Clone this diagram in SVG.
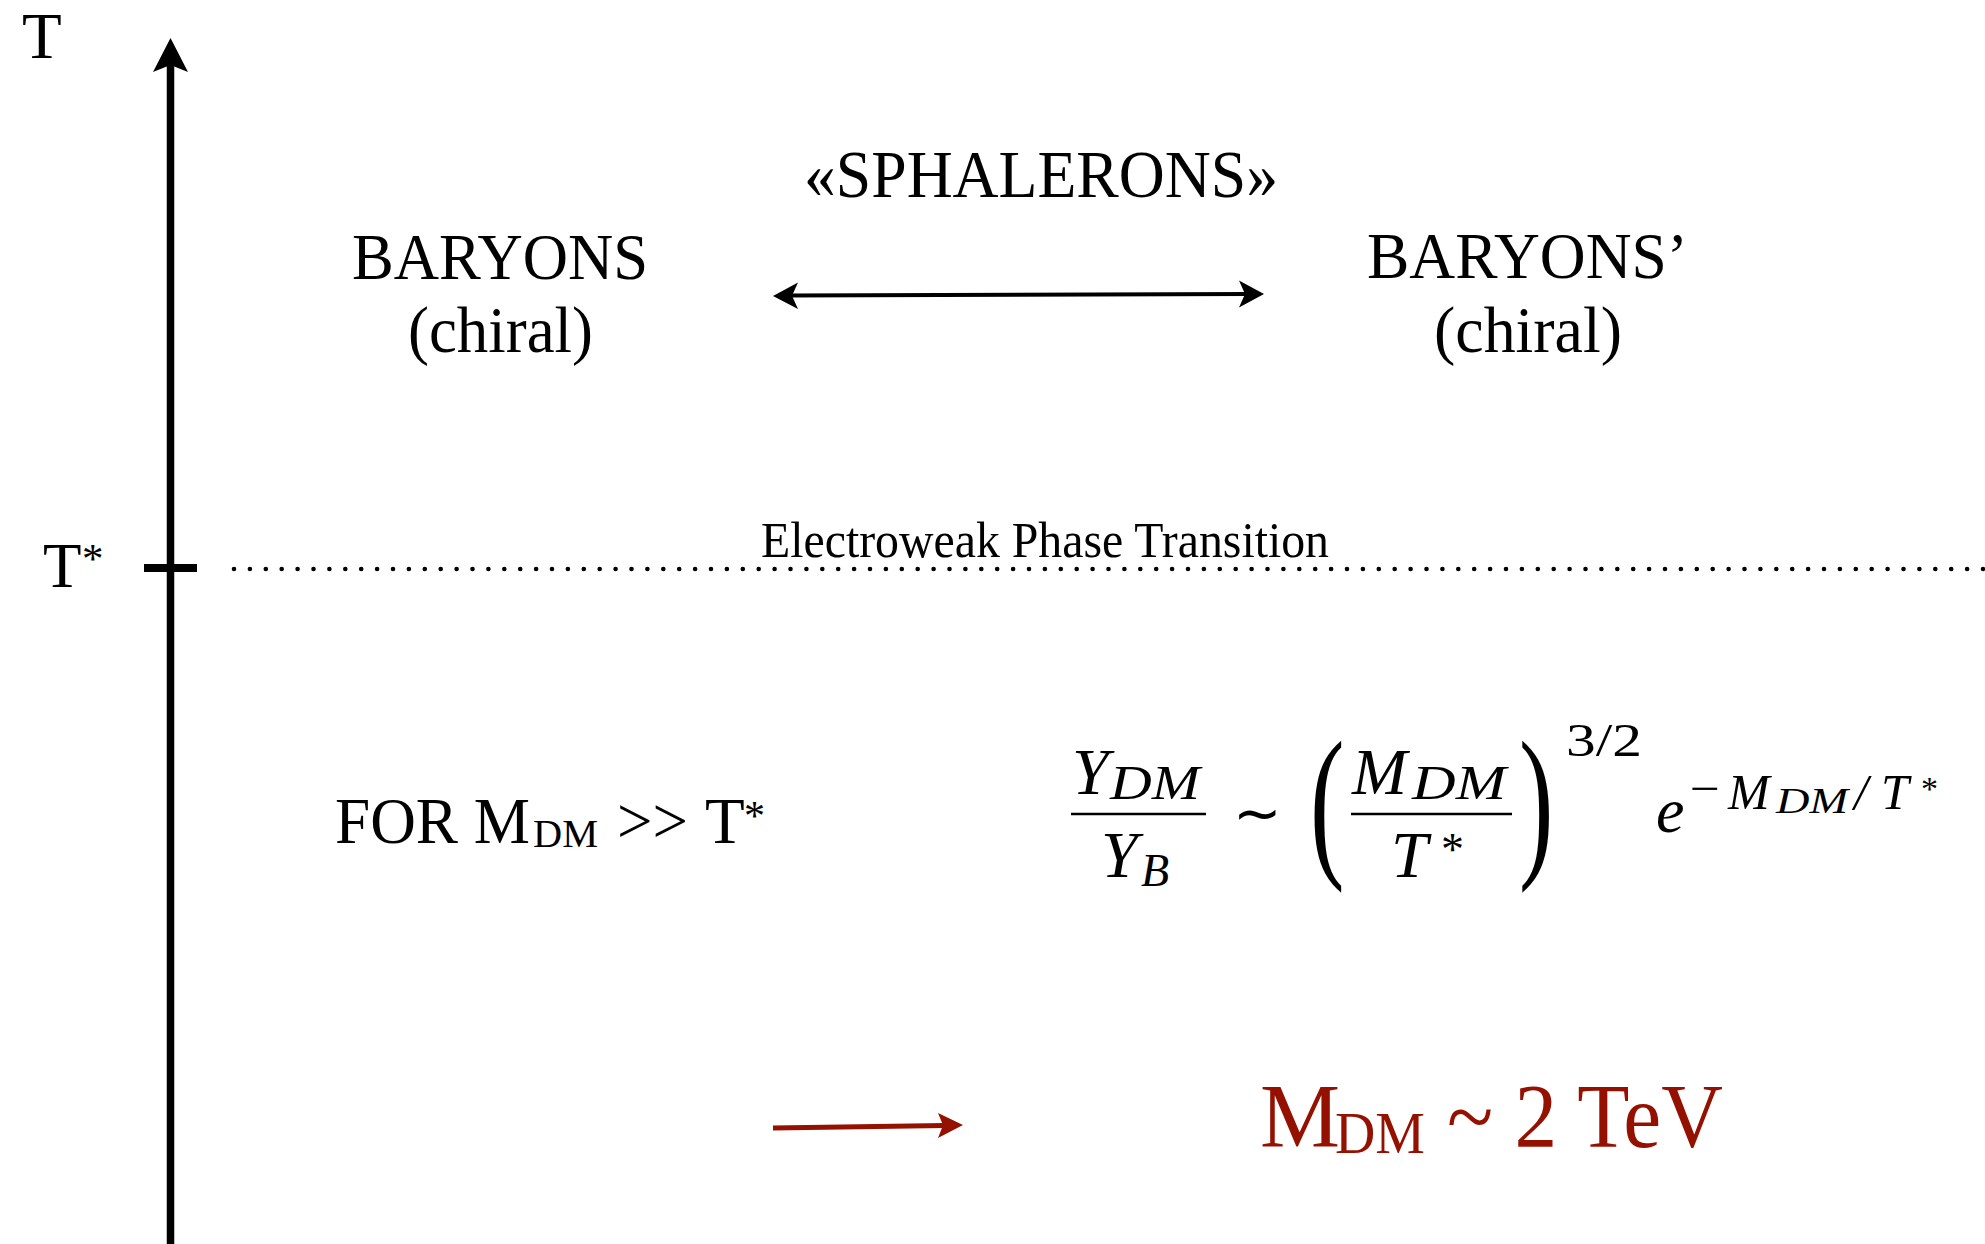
<svg xmlns="http://www.w3.org/2000/svg" width="1985" height="1244" viewBox="0 0 1985 1244">
<style>
.t{font-family:"Liberation Serif","Times New Roman",serif;fill:#000}
.m{font-family:"Liberation Serif","Times New Roman",serif;font-style:italic;fill:#000}
.u{font-family:"Liberation Serif","Times New Roman",serif;fill:#000}
.red{font-family:"Liberation Serif","Times New Roman",serif;fill:#941100}
.ax{stroke:#000;stroke-width:7.5;fill:none}
.bar{stroke:#000;stroke-width:2.6}
</style>
<rect width="1985" height="1244" fill="#fff"/>
<g id="connectors">
  <g id="t-axis">
    <line class="ax" x1="170.5" y1="1244" x2="170.5" y2="62"/>
    <polygon points="170.5,38 188,72 170.5,65 153,72" fill="#000"/>
    <line x1="144" y1="568" x2="197" y2="568" stroke="#000" stroke-width="8"/>
  </g>
  <line id="ewpt-line" x1="234" y1="569" x2="1985" y2="569" stroke="#000" stroke-width="4.6" stroke-linecap="round" stroke-dasharray="0 15.9"/>
  <g id="sphaleron-arrow">
    <line x1="788" y1="295.5" x2="1249" y2="294" stroke="#000" stroke-width="4.2"/>
    <polygon points="773,296 798,282.5 792,295.8 798,309" fill="#000"/>
    <polygon points="1264,294 1239,280.5 1245,294 1239,307.5" fill="#000"/>
  </g>
  <g id="red-arrow">
    <line x1="773" y1="1128" x2="945" y2="1125.4" stroke="#941100" stroke-width="5"/>
    <polygon points="963,1125 938,1113 943,1125.3 938,1138" fill="#941100"/>
  </g>
</g>
<g id="axis-labels">
  <text class="t" x="22" y="58" font-size="65">T</text>
  <text class="t" x="43" y="587" font-size="63">T</text>
  <text class="t" x="82" y="573" font-size="43">*</text>
</g>
<g id="baryons">
  <text class="t" x="352" y="279" font-size="66" textLength="296" lengthAdjust="spacingAndGlyphs">BARYONS</text>
  <text class="t" x="408" y="352" font-size="66" textLength="185" lengthAdjust="spacingAndGlyphs">(chiral)</text>
</g>
<g id="baryons-prime">
  <text class="t" x="1367" y="278" font-size="66" textLength="321" lengthAdjust="spacingAndGlyphs">BARYONS’</text>
  <text class="t" x="1434" y="352" font-size="66" textLength="188" lengthAdjust="spacingAndGlyphs">(chiral)</text>
</g>
<g id="sphalerons">
  <text class="t" x="804" y="197" font-size="68" textLength="474" lengthAdjust="spacingAndGlyphs">«SPHALERONS»</text>
</g>
<g id="ewpt">
  <text class="t" x="761" y="557" font-size="50" textLength="568" lengthAdjust="spacingAndGlyphs">Electroweak Phase Transition</text>
</g>
<g id="condition">
  <text class="t" x="335" y="843" font-size="65" textLength="195" lengthAdjust="spacingAndGlyphs">FOR M</text>
  <text class="t" x="533" y="847" font-size="40" textLength="65" lengthAdjust="spacingAndGlyphs">DM</text>
  <text class="t" x="617" y="843" font-size="65" textLength="71" lengthAdjust="spacingAndGlyphs">&gt;&gt;</text>
  <text class="t" x="705" y="843" font-size="65">T</text>
  <text class="t" x="744" y="830" font-size="42">*</text>
</g>
<g id="formula">
  <text class="m" x="1072" y="794" font-size="66">Y</text>
  <text class="m" x="1110" y="799" font-size="48" textLength="90" lengthAdjust="spacingAndGlyphs">DM</text>
  <line class="bar" x1="1071" y1="814" x2="1206" y2="814"/>
  <text class="m" x="1101" y="877" font-size="66">Y</text>
  <text class="m" x="1141" y="886" font-size="46">B</text>
  <text class="u" x="1233" y="833" font-size="58" font-family="DejaVu Serif">∼</text>
  <text class="u" transform="translate(1310,857) scale(0.62,1)" font-size="167">(</text>
  <text class="m" x="1352" y="794" font-size="66">M</text>
  <text class="m" x="1412" y="799" font-size="48" textLength="94" lengthAdjust="spacingAndGlyphs">DM</text>
  <line class="bar" x1="1351" y1="814" x2="1512" y2="814"/>
  <text class="m" x="1391" y="877" font-size="66">T</text>
  <text class="u" x="1441" y="865" font-size="46">*</text>
  <text class="u" transform="translate(1519,857) scale(0.62,1)" font-size="167">)</text>
  <text class="u" x="1566" y="756" font-size="47" textLength="76" lengthAdjust="spacingAndGlyphs">3/2</text>
  <text class="m" x="1656" y="832" font-size="64">e</text>
  <text class="u" x="1690" y="804" font-size="46" textLength="30" lengthAdjust="spacingAndGlyphs">−</text>
  <text class="m" x="1728" y="809" font-size="50">M</text>
  <text class="m" x="1776" y="813" font-size="36" textLength="72" lengthAdjust="spacingAndGlyphs">DM</text>
  <text class="m" x="1854" y="809" font-size="50">/</text>
  <text class="m" x="1881" y="809" font-size="50">T</text>
  <text class="u" x="1921" y="800" font-size="34">*</text>
</g>
<g id="result">
  <text class="red" x="1260" y="1147" font-size="90">M</text>
  <text class="red" x="1335" y="1153" font-size="59" textLength="90" lengthAdjust="spacingAndGlyphs">DM</text>
  <text class="red" x="1447" y="1147" font-size="90" textLength="276" lengthAdjust="spacingAndGlyphs">~ 2 TeV</text>
</g>
</svg>
